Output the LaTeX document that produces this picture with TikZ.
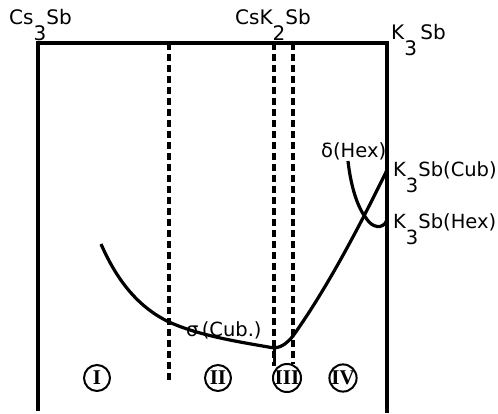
\documentclass[tikz,border=0pt]{standalone}
\usepackage{fontspec}
\setmainfont{DejaVu Sans}
\newfontfamily\romfont{Liberation Serif}
\newcommand{\lowsub}[1]{\raisebox{-16pt}{#1}}
\begin{document}
\begin{tikzpicture}[x=1pt,y=-1pt,
  frame/.style={line width=3.2pt},
  curve/.style={line width=3.2pt},
  dashline/.style={line width=3.2pt, dash pattern=on 7pt off 4pt},
  lbl/.style={inner sep=0pt, anchor=base west, font=\fontsize{20}{22}\selectfont},
  rlbl/.style={inner sep=0pt, anchor=base west, font=\fontsize{19.5}{22}\selectfont},
  roman/.style={circle, draw, line width=2pt, minimum size=26pt, inner sep=0pt,
    font=\romfont\bfseries\fontsize{21}{21}\selectfont}]
\useasboundingbox (0,0) rectangle (498,413);
% frame
\coordinate (bl) at (38,411);
\coordinate (tl) at (38,43);
\coordinate (tr) at (387,43);
\coordinate (br) at (387,413);
\draw[frame] (bl) -- (tl) -- (tr) -- (br);
% dashed boundaries
\coordinate (d1t) at (169,43); \coordinate (d1b) at (169,382);
\coordinate (d2t) at (274,43); \coordinate (d2b) at (274,366);
\coordinate (d3t) at (293,43); \coordinate (d3b) at (293,364);
\draw[dashline] (d1t) -- (d1b);
\draw[dashline] (d2t) -- (d2b);
\draw[dashline] (d3t) -- (d3b);
\draw[line width=3pt] (274,346) -- (274,362);
% main curve
\coordinate (c0) at (101,244);
\coordinate (c1) at (169,322);
\coordinate (cmin) at (274,348);
\coordinate (c2) at (293,336);
\coordinate (cend) at (387,170);
\draw[curve] (c0) .. controls (118,283) and (140,308) .. (c1)
  .. controls (200,336) and (240,342) .. (cmin)
  .. controls (283,347) and (288,342) .. (c2)
  .. controls (320,298) and (350,246) .. (cend);
% delta (Hex) curve
\coordinate (h0) at (348,161);
\coordinate (h1) at (366,218);
\coordinate (h2) at (387,220);
\draw[curve] (h0) .. controls (351,188) and (358,208) .. (h1)
  .. controls (372,228) and (383,230) .. (h2);
% labels
\node[lbl] (lcs3sb) at (9,24) {Cs\lowsub{3}Sb};
\node[lbl] (lcsk2sb) at (235,24) {CsK\lowsub{2}Sb};
\node[lbl] (lk3sb) at (391,39) {K\lowsub{3}\,Sb};
\node[rlbl] (lcub) at (393,176) {K\lowsub{3}Sb(Cub)};
\node[rlbl] (lhex) at (393,228) {K\lowsub{3}Sb(Hex)};
\node[rlbl] (ldelta) at (321,157) {δ(Hex)};
\node[rlbl] (lsigma) at (186,336) {σ\,(Cub.)};
% circled regions
\node[roman] (r1) at (97,378) {I};
\node[roman] (r2) at (218,378) {II};
\node[roman] (r3) at (287,378) {III};
\node[roman] (r4) at (343,378) {IV};
\end{tikzpicture}
\end{document}
